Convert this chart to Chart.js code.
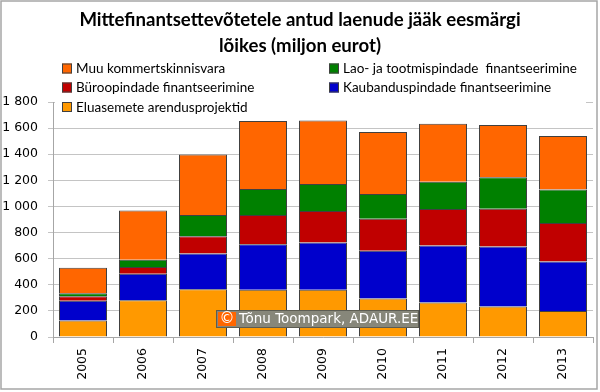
<!DOCTYPE html>
<html>
<head>
<meta charset="utf-8">
<script src="https://cdn.jsdelivr.net/npm/chart.js@4"></script>
<style>
  html, body { margin: 0; padding: 0; background: #fff; }
  #wrap { width: 600px; height: 392px; position: relative; }
</style>
</head>
<body>
<div id="wrap"><canvas id="c" width="600" height="392"></canvas></div>
<script>
// ---- data (million euros) ----
const years = ['2005', '2006', '2007', '2008', '2009', '2010', '2011', '2012', '2013'];
const eluasemete = [126, 282, 366, 361, 361, 295, 264, 233, 200];
const kaubandus  = [151, 202, 273, 349, 362, 365, 436, 460, 378];
const buroo      = [35, 53, 132, 225, 243, 245, 281, 290, 296];
const lao        = [23, 54, 164, 199, 206, 191, 209, 240, 255];
const muu        = [195, 377, 462, 520, 487, 474, 444, 401, 411];
const seriesNames = [
  'Eluasemete arendusprojektid',
  'Kaubanduspindade finantseerimine',
  'Büroopindade finantseerimine',
  'Lao- ja tootmispindade  finantseerimine',
  'Muu kommertskinnisvara'
];
const titleLines = ['Mittefinantsettevõtetele antud laenude jääk eesmärgi', 'lõikes (miljon eurot)'];
const yMax = 1800;
const yStep = 200;
const watermark = 'Tõnu Toompark, ADAUR.EE';

const colors = ['#FF9900', '#0000CC', '#C00000', '#008000', '#FF6600'];
const seriesValues = [eluasemete, kaubandus, buroo, lao, muu];

function fmt(v) {
  if (v >= 1000) return Math.floor(v / 1000) + ' ' + String(v % 1000).padStart(3, '0');
  return String(v);
}

const decorPlugin = {
  id: 'decor',
  afterDraw(chart) {
    const ctx = chart.ctx;
    ctx.save();
    // title
    ctx.fillStyle = '#000';
    ctx.font = 'bold 18.6px Lato, "Open Sans", sans-serif';
    ctx.textAlign = 'center';
    ctx.textBaseline = 'middle';
    ctx.fillText(titleLines[0], 300, 20);
    ctx.fillText(titleLines[1], 300, 46);

    // legend (white background covers top grid line)
    ctx.fillStyle = '#fff';
    ctx.fillRect(55, 58, 531, 59);
    const order = [4, 3, 2, 1, 0];
    const pos = [[62, 68.5], [329, 68.5], [62, 87.5], [329, 87.5], [62, 107]];
    ctx.font = '13.5px Lato, "Open Sans", sans-serif';
    ctx.textAlign = 'left';
    order.forEach((di, k) => {
      const ds = chart.data.datasets[di];
      const [x, y] = pos[k];
      ctx.fillStyle = ds.backgroundColor;
      ctx.fillRect(x, y - 5, 10, 10);
      ctx.strokeStyle = '#404040';
      ctx.lineWidth = 1;
      ctx.strokeRect(x + 0.5, y - 4.5, 9, 9);
      ctx.fillStyle = '#000';
      ctx.fillText(ds.label, x + 14, y + 0.5);
    });

    // watermark
    const bx = 216, by = 310, bw = 203, bh = 18;
    ctx.fillStyle = '#87877a';
    ctx.fillRect(bx, by, bw, bh);
    ctx.strokeStyle = '#5c5c52';
    ctx.strokeRect(bx + 0.5, by + 0.5, bw - 1, bh - 1);
    ctx.fillStyle = '#FF6600';
    ctx.fillRect(bx + 2, by + 2, 18, bh - 4);
    ctx.fillStyle = '#fff';
    ctx.font = '15px "DejaVu Sans", sans-serif';
    ctx.textAlign = 'center';
    ctx.fillText('\u00A9', bx + 11, by + bh / 2 + 0.5);
    ctx.font = '13.5px "DejaVu Sans", sans-serif';
    ctx.textAlign = 'left';
    ctx.fillText(watermark, bx + 23, by + bh / 2 + 0.5);

    // outer border
    ctx.strokeStyle = '#a6a6a6';
    ctx.lineWidth = 1.5;
    ctx.strokeRect(1, 1, 596, 388);
    ctx.restore();
  }
};

new Chart(document.getElementById('c'), {
  type: 'bar',
  data: {
    labels: years,
    datasets: seriesValues.map((vals, i) => ({
      label: seriesNames[i],
      data: vals,
      backgroundColor: colors[i],
      borderColor: '#404040',
      borderWidth: 1,
      barPercentage: 0.8,
      categoryPercentage: 1.0
    }))
  },
  options: {
    responsive: false,
    animation: false,
    devicePixelRatio: 1,
    layout: { padding: { top: 102, right: 7, bottom: 0, left: 0 } },
    plugins: {
      legend: { display: false },
      title: { display: false },
      tooltip: { enabled: false }
    },
    scales: {
      x: {
        stacked: true,
        afterFit(s) { s.height = 55; },
        grid: { offset: true, drawOnChartArea: false, drawTicks: true, tickLength: 6, color: '#a6a6a6' },
        border: { display: true, color: '#a6a6a6' },
        ticks: {
          autoSkip: false, maxRotation: 90, minRotation: 90, padding: 5,
          color: '#000', font: { family: '"DejaVu Sans", sans-serif', size: 12.5 }
        }
      },
      y: {
        stacked: true,
        min: 0, max: yMax,
        afterFit(s) { s.width = 53; },
        grid: { color: '#c4c4c4', tickLength: 5 },
        border: { display: true, color: '#a6a6a6' },
        ticks: {
          stepSize: yStep, padding: 10,
          color: '#000', font: { family: '"DejaVu Sans", sans-serif', size: 12.5 },
          callback: v => fmt(v)
        }
      }
    }
  },
  plugins: [decorPlugin]
});
</script>
</body>
</html>
